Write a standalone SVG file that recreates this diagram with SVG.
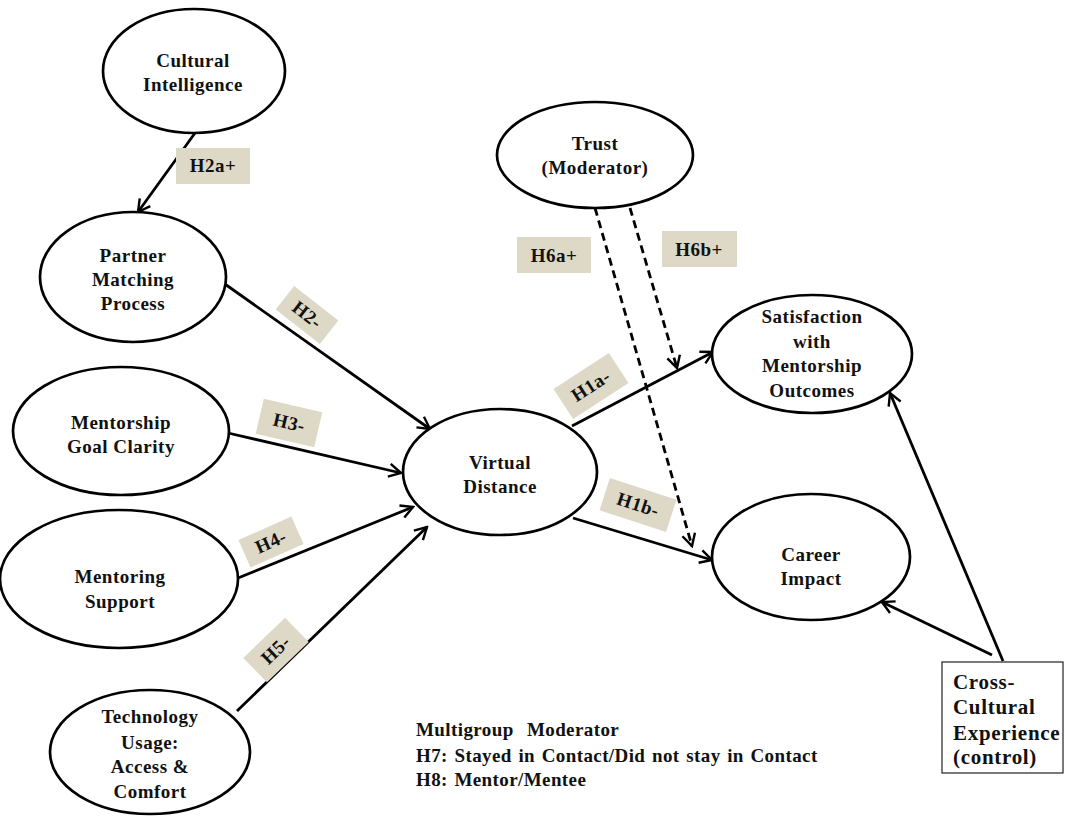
<svg xmlns="http://www.w3.org/2000/svg" width="1065" height="816" viewBox="0 0 1065 816">
<style>
.node ellipse{fill:#fff;stroke:#000;stroke-width:2.7}
text{font-family:"Liberation Serif","Times New Roman",serif;font-weight:bold;font-size:19px;letter-spacing:0.5px;fill:#111}
.c{text-anchor:middle}
.lbl rect{fill:#DDD9C6}
.conn line{stroke:#000;stroke-width:2.8;fill:none}
.conn .d{stroke-dasharray:8 5;stroke-width:2.8}
.note text{letter-spacing:0.4px;word-spacing:1.5px}
.box text{font-size:21px;letter-spacing:0.7px}
</style>
<defs>
<marker id="arr" viewBox="0 0 16 16" refX="14" refY="8" markerWidth="16" markerHeight="16" markerUnits="userSpaceOnUse" orient="auto">
<path d="M2,1.5 L14,8 L2,14.5" fill="none" stroke="#000" stroke-width="2.4"/>
</marker>
</defs>
<rect width="1065" height="816" fill="#fff"/>
<g id="connectors" class="conn">
<line x1="195" y1="133" x2="138" y2="212" marker-end="url(#arr)"/>
<line x1="222" y1="282" x2="430" y2="429" marker-end="url(#arr)"/>
<line x1="228" y1="433" x2="401" y2="473" marker-end="url(#arr)"/>
<line x1="238" y1="578" x2="413" y2="507" marker-end="url(#arr)"/>
<line x1="237" y1="711" x2="427" y2="527" marker-end="url(#arr)"/>
<line x1="572" y1="426" x2="713" y2="352" marker-end="url(#arr)"/>
<line x1="573" y1="518" x2="712" y2="560" marker-end="url(#arr)"/>
<line class="d" x1="595" y1="208" x2="692" y2="546" marker-end="url(#arr)"/>
<line class="d" x1="630" y1="208" x2="677" y2="368" marker-end="url(#arr)"/>
<line x1="992" y1="655" x2="882" y2="602" marker-end="url(#arr)"/>
<line x1="1003" y1="661" x2="890" y2="393" marker-end="url(#arr)"/>
</g>
<g id="labels" class="lbl">
<g id="lbl-h2a"><rect x="176" y="148" width="74" height="36"/><text class="c" x="213" y="172">H2a+</text></g>
<g id="lbl-h2" transform="translate(307,315) rotate(38)"><rect x="-28" y="-15" width="56" height="30"/><text class="c" x="0" y="6">H2-</text></g>
<g id="lbl-h3" transform="translate(289,423) rotate(13)"><rect x="-30" y="-18" width="60" height="36"/><text class="c" x="0" y="6">H3-</text></g>
<g id="lbl-h4" transform="translate(271,542) rotate(-24)"><rect x="-29" y="-15" width="58" height="30"/><text class="c" x="0" y="6">H4-</text></g>
<g id="lbl-h5" transform="translate(276,650) rotate(-44)"><rect x="-29" y="-17" width="58" height="34"/><text class="c" x="0" y="6">H5-</text></g>
<g id="lbl-h1a" transform="translate(591,386) rotate(-33)"><rect x="-33" y="-18" width="66" height="36"/><text class="c" x="0" y="6">H1a-</text></g>
<g id="lbl-h1b" transform="translate(638,505) rotate(18)"><rect x="-35" y="-17" width="70" height="34"/><text class="c" x="0" y="6">H1b-</text></g>
<g id="lbl-h6a"><rect x="517" y="237" width="74" height="36"/><text class="c" x="554" y="262">H6a+</text></g>
<g id="lbl-h6b"><rect x="662" y="231" width="75" height="36"/><text class="c" x="699" y="256">H6b+</text></g>
</g>
<g id="n-cultural" class="node"><ellipse cx="194" cy="71" rx="91" ry="62"/><text class="c" x="193" y="67">Cultural</text><text class="c" x="193" y="91">Intelligence</text></g>
<g id="n-partner" class="node"><ellipse cx="133" cy="277" rx="93" ry="65"/><text class="c" x="133" y="262">Partner</text><text class="c" x="133" y="286">Matching</text><text class="c" x="133" y="310">Process</text></g>
<g id="n-goal" class="node"><ellipse cx="121" cy="431" rx="108" ry="64"/><text class="c" x="121" y="429">Mentorship</text><text class="c" x="121" y="453">Goal Clarity</text></g>
<g id="n-support" class="node"><ellipse cx="119" cy="579" rx="119" ry="69"/><text class="c" x="120" y="583">Mentoring</text><text class="c" x="120" y="608">Support</text></g>
<g id="n-tech" class="node"><ellipse cx="150" cy="752" rx="100" ry="62"/><text class="c" x="150" y="723">Technology</text><text class="c" x="150" y="749">Usage:</text><text class="c" x="150" y="773">Access &amp;</text><text class="c" x="150" y="798">Comfort</text></g>
<g id="n-virtual" class="node"><ellipse cx="500" cy="472" rx="97" ry="63"/><text class="c" x="500" y="469">Virtual</text><text class="c" x="500" y="493">Distance</text></g>
<g id="n-trust" class="node"><ellipse cx="595" cy="155" rx="98" ry="53"/><text class="c" x="595" y="150">Trust</text><text class="c" x="595" y="174">(Moderator)</text></g>
<g id="n-satisfaction" class="node"><ellipse cx="812" cy="354" rx="100" ry="59"/><text class="c" x="812" y="323">Satisfaction</text><text class="c" x="812" y="348">with</text><text class="c" x="812" y="372">Mentorship</text><text class="c" x="812" y="397">Outcomes</text></g>
<g id="n-career" class="node"><ellipse cx="811" cy="557" rx="99" ry="63"/><text class="c" x="811" y="561">Career</text><text class="c" x="811" y="585">Impact</text></g>
<g id="n-cross" class="box"><rect x="942" y="662" width="121" height="111" fill="#fff" stroke="#222" stroke-width="1.2"/><text x="953" y="689">Cross-</text><text x="953" y="714">Cultural</text><text x="953" y="740">Experience</text><text x="953" y="764">(control)</text></g>
<g id="multigroup" class="note"><text x="416" y="736">Multigroup&#160; Moderator</text><text x="416" y="762">H7: Stayed in Contact/Did not stay in Contact</text><text x="416" y="786">H8: Mentor/Mentee</text></g>
</svg>
